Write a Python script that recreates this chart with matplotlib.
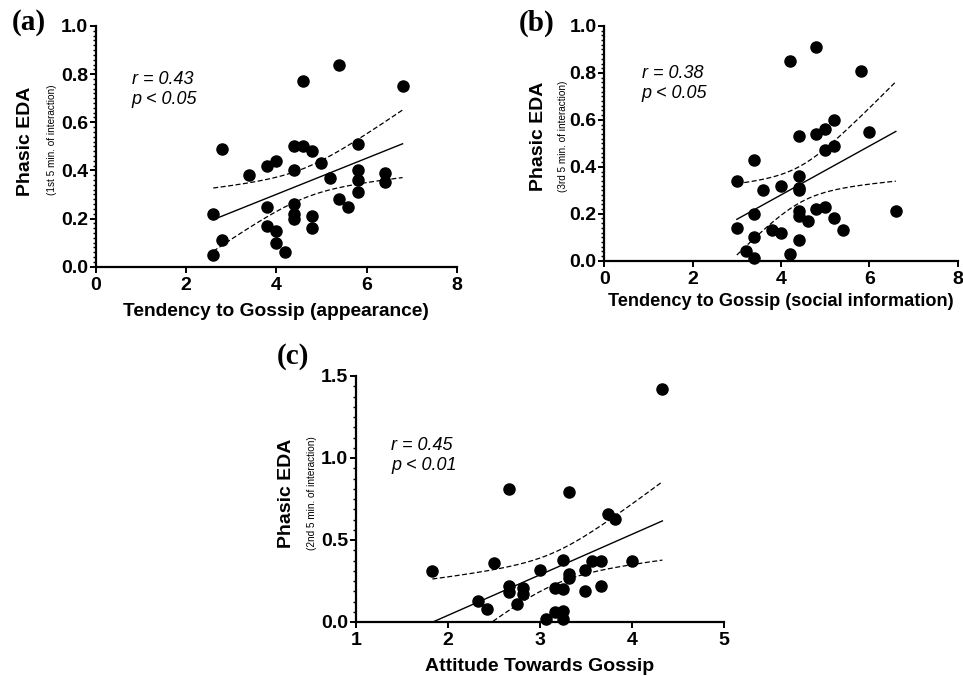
import numpy as np
import matplotlib
matplotlib.use("Agg")
import matplotlib.pyplot as plt
from matplotlib.ticker import MultipleLocator

plt.rcParams['font.family'] = ['Liberation Sans', 'DejaVu Sans']

# panel (a): tendency to gossip (appearance) vs phasic EDA (1st 5 min)
a_x = [2.6, 2.6, 2.8, 2.8, 3.4, 3.8, 3.8, 3.8, 4.0, 4.0, 4.0, 4.2,
       4.4, 4.4, 4.4, 4.4, 4.4, 4.6, 4.6, 4.8, 4.8, 4.8, 5.0, 5.2,
       5.4, 5.4, 5.6, 5.8, 5.8, 5.8, 5.8, 6.4, 6.4, 6.8]
a_y = [0.22, 0.05, 0.49, 0.11, 0.38, 0.42, 0.25, 0.17, 0.44, 0.15, 0.10, 0.06,
       0.50, 0.40, 0.26, 0.22, 0.20, 0.77, 0.50, 0.48, 0.21, 0.16, 0.43, 0.37,
       0.84, 0.28, 0.25, 0.51, 0.40, 0.36, 0.31, 0.39, 0.35, 0.75]

# panel (b): tendency to gossip (social information) vs phasic EDA (3rd 5 min)
b_x = [3.0, 3.0, 3.2, 3.4, 3.4, 3.4, 3.4, 3.6, 3.8, 4.0, 4.0, 4.2,
       4.2, 4.4, 4.4, 4.4, 4.4, 4.4, 4.4, 4.4, 4.6, 4.8, 4.8, 4.8,
       5.0, 5.0, 5.0, 5.2, 5.2, 5.2, 5.4, 5.8, 6.0, 6.6]
b_y = [0.34, 0.14, 0.04, 0.43, 0.20, 0.10, 0.01, 0.30, 0.13, 0.32, 0.12, 0.85,
       0.03, 0.53, 0.36, 0.31, 0.30, 0.21, 0.19, 0.09, 0.17, 0.91, 0.54, 0.22,
       0.56, 0.47, 0.23, 0.60, 0.49, 0.18, 0.13, 0.81, 0.55, 0.21]

# panel (c): attitude towards gossip vs phasic EDA (2nd 5 min)
c_x = [1.83, 2.33, 2.42, 2.50, 2.66, 2.66, 2.66, 2.75, 2.82, 2.82, 3.00, 3.07,
       3.16, 3.16, 3.25, 3.25, 3.25, 3.25, 3.32, 3.32, 3.32, 3.49, 3.49, 3.57,
       3.66, 3.66, 3.74, 3.82, 4.00, 4.33]
c_y = [0.31, 0.13, 0.08, 0.36, 0.81, 0.22, 0.18, 0.11, 0.21, 0.17, 0.32, 0.02,
       0.06, 0.21, 0.38, 0.20, 0.07, 0.02, 0.79, 0.29, 0.27, 0.32, 0.19, 0.37,
       0.37, 0.22, 0.66, 0.63, 0.37, 1.42]

stats = ["r = 0.43\np < 0.05", "r = 0.38\np < 0.05", "r = 0.45\np < 0.01"]
xlabels = ["Tendency to Gossip (appearance)",
           "Tendency to Gossip (social information)",
           "Attitude Towards Gossip"]
sublabels = ["(1st 5 min. of interaction)",
             "(3rd 5 min. of interaction)",
             "(2nd 5 min. of interaction)"]
letters = ["(a)", "(b)", "(c)"]

W, H = 963, 676


def px(x, y):
    # pixel position -> figure fraction
    return x / W, 1 - y / H


def fit_band(x, y, t_crit=2.04):
    # linear fit with 95% confidence band of the mean
    x = np.asarray(x)
    y = np.asarray(y)
    n = len(x)
    b, a = np.polyfit(x, y, 1)
    resid = y - (a + b * x)
    s = np.sqrt(np.sum(resid ** 2) / (n - 2))
    sxx = np.sum((x - x.mean()) ** 2)
    xs = np.linspace(x.min(), x.max(), 200)
    yhat = a + b * xs
    half = t_crit * s * np.sqrt(1.0 / n + (xs - x.mean()) ** 2 / sxx)
    return xs, yhat, yhat - half, yhat + half


fig = plt.figure(figsize=(9.63, 6.76), dpi=100)

panels = [
    dict(data=(a_x, a_y), rect=(96, 26, 456.7, 266.7), xlim=(0, 8), xmaj=2,
         ylim=(0, 1.0), ymaj=0.2, ymin=0.02,
         ylab=(26, 141.7), sub=(51.7, 140), xlab=(276, 311.7), xsize=13.8,
         letter=(12, 23), txt=(0.099, 0.815)),
    dict(data=(b_x, b_y), rect=(604.3, 26, 957.7, 260.7), xlim=(0, 8), xmaj=2,
         ylim=(0, 1.0), ymaj=0.2, ymin=0.02,
         ylab=(538.3, 136.7), sub=(562.7, 136.7), xlab=(781, 301.7), xsize=13.1,
         letter=(519, 23), txt=(0.106, 0.833)),
    dict(data=(c_x, c_y), rect=(356, 376, 724, 622), xlim=(1, 5), xmaj=1,
         ylim=(0, 1.5), ymaj=0.5, ymin=0.0625,
         ylab=(286, 493), sub=(311.7, 493), xlab=(540, 666.7), xsize=14,
         letter=(276.7, 356), txt=(0.095, 0.753)),
]

for i, p in enumerate(panels):
    x0, y0, x1, y1 = p["rect"]
    ax = fig.add_axes([x0 / W, 1 - y1 / H, (x1 - x0) / W, (y1 - y0) / H])
    xd, yd = p["data"]

    xs, yhat, lo, hi = fit_band(xd, yd)
    ax.plot(xs, yhat, color="black", lw=1.0)
    ax.plot(xs, lo, color="black", lw=0.9, ls=(0, (4, 2)))
    ax.plot(xs, hi, color="black", lw=0.9, ls=(0, (4, 2)))
    ax.plot(xd, yd, "o", color="black", ms=8, clip_on=False, zorder=3)

    ax.set_xlim(*p["xlim"])
    ax.set_ylim(*p["ylim"])
    ax.xaxis.set_major_locator(MultipleLocator(p["xmaj"]))
    ax.yaxis.set_major_locator(MultipleLocator(p["ymaj"]))
    ax.yaxis.set_minor_locator(MultipleLocator(p["ymin"]))
    ax.yaxis.set_major_formatter(matplotlib.ticker.FormatStrFormatter("%.1f"))

    for side in ["top", "right"]:
        ax.spines[side].set_visible(False)
    for side in ["left", "bottom"]:
        ax.spines[side].set_linewidth(1.6)
    ax.tick_params(axis="both", which="major", length=4.5, width=1.4,
                   labelsize=14, direction="out")
    ax.tick_params(axis="y", which="major", pad=1)
    ax.tick_params(axis="x", which="major", pad=3)
    ax.tick_params(axis="y", which="minor", length=2.5, width=1.0)
    for lab in ax.get_xticklabels() + ax.get_yticklabels():
        lab.set_fontweight("bold")

    ax.text(p["txt"][0], p["txt"][1], stats[i], transform=ax.transAxes,
            ha="left", va="top", fontsize=13, style="italic",
            linespacing=1.25)

    fig.text(*px(*p["ylab"]), "Phasic EDA", rotation=90, ha="center",
             va="center", fontsize=14, fontweight="bold")
    fig.text(*px(*p["sub"]), sublabels[i], rotation=90, ha="center",
             va="center", fontsize=7.2, fontstretch="condensed")
    fig.text(*px(*p["xlab"]), xlabels[i], ha="center", va="center",
             fontsize=p["xsize"], fontweight="bold")
    fig.text(*px(*p["letter"]), letters[i], ha="left", va="center",
             fontsize=21, fontweight="bold", family="Liberation Serif")

fig.savefig("out.png", dpi=100)
